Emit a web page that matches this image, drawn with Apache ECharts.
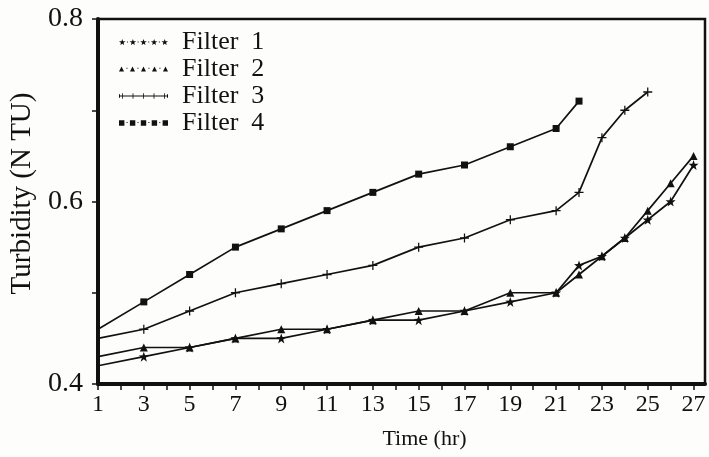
<!DOCTYPE html>
<html>
<head>
<meta charset="utf-8">
<script src="https://cdn.jsdelivr.net/npm/echarts@6/dist/echarts.min.js"></script>
<style>
  html, body { margin: 0; padding: 0; background: #fdfdfb; }
  #chart { width: 709px; height: 457px; }
</style>
</head>
<body>
<div id="chart"></div>
<script>
// values
const hours = [1, 3, 5, 7, 9, 11, 13, 15, 17, 19, 21, 22, 23, 24, 25, 26, 27];
const filter1 = [0.42, 0.43, 0.44, 0.45, 0.45, 0.46, 0.47, 0.47, 0.48, 0.49, 0.50, 0.53, 0.54, 0.56, 0.58, 0.60, 0.64];
const filter2 = [0.43, 0.44, 0.44, 0.45, 0.46, 0.46, 0.47, 0.48, 0.48, 0.50, 0.50, 0.52, 0.54, 0.56, 0.59, 0.62, 0.65];
const hours3 = [1, 3, 5, 7, 9, 11, 13, 15, 17, 19, 21, 22, 23, 24, 25];
const filter3 = [0.45, 0.46, 0.48, 0.50, 0.51, 0.52, 0.53, 0.55, 0.56, 0.58, 0.59, 0.61, 0.67, 0.70, 0.72];
const hours4 = [1, 3, 5, 7, 9, 11, 13, 15, 17, 19, 21, 22];
const filter4 = [0.46, 0.49, 0.52, 0.55, 0.57, 0.59, 0.61, 0.63, 0.64, 0.66, 0.68, 0.71];

const xTicks = [1, 2, 3, 4, 5, 6, 7, 8, 9, 10, 11, 12, 13, 14, 15, 16, 17, 18, 19, 20, 21, 22, 23, 24, 25, 26, 27];
const xLabels = [1, 3, 5, 7, 9, 11, 13, 15, 17, 19, 21, 23, 25, 27];
const yTicks = [0.4, 0.5, 0.6, 0.7, 0.8];
const yLabels = [0.4, 0.6, 0.8];

const names = ['Filter  1', 'Filter  2', 'Filter  3', 'Filter  4'];

const FONT = "'Liberation Serif', 'DejaVu Serif', serif";
const INK = '#111';

// marker shapes
function star(cx, cy, R) {
  let d = '';
  for (let k = 0; k < 10; k++) {
    const a = (-90 + k * 36) * Math.PI / 180;
    const r = k % 2 === 0 ? R : R * 0.4;
    d += (k === 0 ? 'M' : 'L') + (cx + r * Math.cos(a)).toFixed(1) + ',' + (cy + r * Math.sin(a)).toFixed(1);
  }
  return d + 'Z';
}
function tri(cx, cy, R) {
  return 'M' + cx + ',' + (cy - R) + 'L' + (cx + R) + ',' + (cy + R) + 'L' + (cx - R) + ',' + (cy + R) + 'Z';
}
function box(x, y, w, h) {
  return 'M' + x + ',' + y + 'h' + w + 'v' + h + 'h' + (-w) + 'Z';
}
function plus(cx, cy, R, t) {
  return box(cx - t / 2, cy - R, t, 2 * R) + box(cx - R, cy - t / 2, 2 * R, t);
}

const starSymbol = 'path://' + star(50, 50, 50);
const plusSymbol = 'path://' + plus(50, 50, 50, 14);

// legend icons: a row of five markers, 490 x 70 units
const centers = [35, 140, 245, 350, 455];
function dots() {
  let d = '';
  centers.slice(0, 4).forEach(c => { d += box(c + 47, 31, 10, 8); });
  return d;
}
const legendIcons = [
  'path://' + centers.map(c => star(c, 38, 34)).join('') + dots(),
  'path://' + centers.map(c => tri(c, 42, 24)).join('') + dots(),
  'path://' + box(0, 31, 490, 8) + centers.map(c => box(c - 4, 8, 8, 54)).join('') + box(0, 18, 10, 34) + box(480, 18, 10, 34),
  'path://' + centers.map(c => box(c - 26, 14, 52, 52)).join('') + dots()
];

function toPoints(xs, ys) {
  return xs.map((x, i) => ({ value: [x, ys[i]], symbol: x === 1 ? 'none' : undefined }));
}

function lineSeries(name, xs, ys, symbol, size) {
  return {
    name: name,
    type: 'line',
    data: toPoints(xs, ys),
    symbol: symbol,
    symbolSize: size,
    showAllSymbol: true,
    lineStyle: { color: INK, width: 1.7 },
    itemStyle: { color: INK, borderWidth: 0 },
    emphasis: { disabled: true },
    clip: false
  };
}

const chart = echarts.init(document.getElementById('chart'));

chart.setOption({
  backgroundColor: '#fdfdfb',
  animation: false,
  textStyle: { fontFamily: FONT, color: INK },
  grid: {
    left: 98, right: 4, top: 19, bottom: 73,
    show: true, borderColor: INK, borderWidth: 2.5, backgroundColor: 'transparent'
  },
  legend: {
    orient: 'vertical',
    left: 114,
    top: 24,
    itemWidth: 49,
    itemHeight: 7,
    itemGap: 1,
    textStyle: { fontFamily: FONT, fontSize: 26, color: INK, padding: [0, 0, 0, 9] },
    data: names.map((n, i) => ({ name: n, icon: legendIcons[i], itemStyle: { color: INK } })),
    selectedMode: false
  },
  xAxis: {
    type: 'value',
    min: 1,
    max: 27.5,
    interval: 1,
    name: 'Time (hr)',
    nameLocation: 'middle',
    nameGap: 44,
    nameTextStyle: { fontFamily: FONT, fontSize: 22, color: INK, padding: [0, 0, 0, 46] },
    splitLine: { show: false },
    axisLine: { show: true, onZero: false, lineStyle: { color: INK, width: 4 } },
    axisTick: { show: true, customValues: xTicks, length: 6, lineStyle: { color: INK, width: 1.5 } },
    axisLabel: {
      customValues: xLabels,
      margin: 9,
      fontFamily: FONT,
      fontSize: 24,
      color: INK
    }
  },
  yAxis: {
    type: 'value',
    min: 0.4,
    max: 0.8,
    interval: 0.1,
    name: 'Turbidity (N TU)',
    nameLocation: 'middle',
    nameGap: 61,
    nameRotate: 90,
    nameTextStyle: { fontFamily: FONT, fontSize: 29, color: INK, padding: [0, 0, 0, 16] },
    splitLine: { show: false },
    axisLine: { show: true, onZero: false, lineStyle: { color: INK, width: 4 } },
    axisTick: { show: true, customValues: yTicks, length: 6, lineStyle: { color: INK, width: 1.5 } },
    axisLabel: {
      customValues: yLabels,
      margin: 15,
      fontFamily: FONT,
      fontSize: 28,
      color: INK,
      formatter: v => v.toFixed(1)
    }
  },
  series: [
    lineSeries(names[0], hours, filter1, starSymbol, 10),
    lineSeries(names[1], hours, filter2, 'triangle', 8),
    lineSeries(names[2], hours3, filter3, plusSymbol, 9),
    lineSeries(names[3], hours4, filter4, 'rect', 7)
  ]
});

window.addEventListener('resize', function () {
  chart.resize();
});
</script>
</body>
</html>
